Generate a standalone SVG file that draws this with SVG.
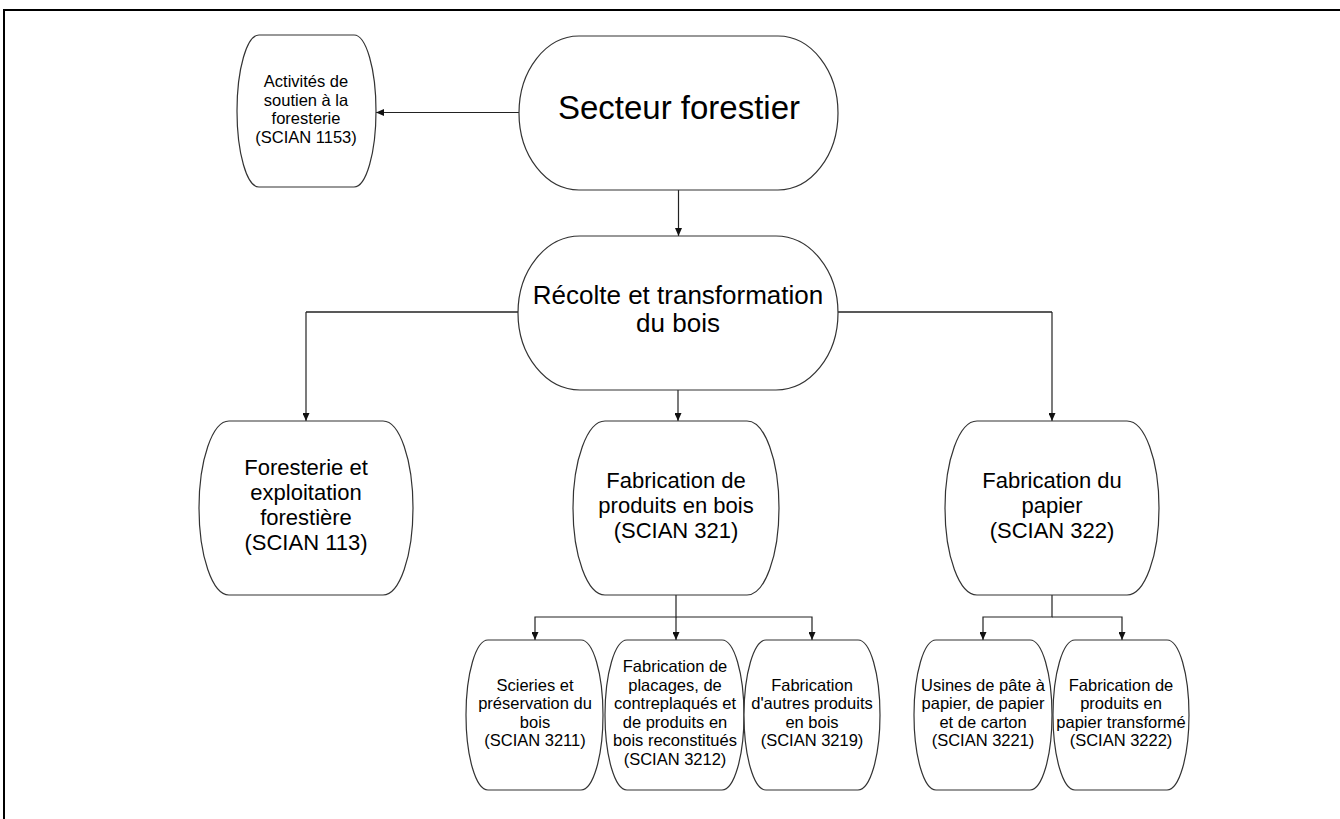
<svg xmlns="http://www.w3.org/2000/svg" width="1340" height="819" viewBox="0 0 1340 819">
<style>
.box{fill:#fff;stroke:#333;stroke-width:1.2}
.t{font-family:"Liberation Sans",Arial,sans-serif;fill:#000;text-anchor:middle}
.s{font-size:16.5px}
.m{font-size:22px}
.c{fill:none;stroke:#222;stroke-width:1.2}
.h{fill:none;stroke:#222;stroke-width:1.6}
</style>
<defs>
<marker id="ah" markerUnits="userSpaceOnUse" markerWidth="8" markerHeight="7" refX="8" refY="3.5" orient="auto">
<path d="M0,0 L8,3.5 L0,7 z" fill="#111"/>
</marker>
</defs>
<rect width="1340" height="819" fill="#fff"/>
<path d="M4,819 V10 H1340" fill="none" stroke="#000" stroke-width="2"/>

<g id="connectors">
<path class="c" d="M519,112.5 H376" marker-end="url(#ah)"/>
<path class="c" d="M678.5,190 V236" marker-end="url(#ah)"/>
<path class="h" d="M518,312 H306"/>
<path class="c" d="M306,312 V421" marker-end="url(#ah)"/>
<path class="h" d="M838,312 H1052"/>
<path class="c" d="M1052,312 V421" marker-end="url(#ah)"/>
<path class="c" d="M678,390 V421" marker-end="url(#ah)"/>
<path class="c" d="M676,595 V617 H535 V640" marker-end="url(#ah)"/>
<path class="c" d="M676,617 V640" marker-end="url(#ah)"/>
<path class="c" d="M676,617 H812 V640" marker-end="url(#ah)"/>
<path class="c" d="M1052,595 V617 H983 V640" marker-end="url(#ah)"/>
<path class="c" d="M1052,617 H1122 V640" marker-end="url(#ah)"/>
</g>

<g id="secteur">
<rect class="box" x="519" y="36" width="319" height="154" rx="60" ry="77"/>
<text class="t" x="679" y="119" font-size="33">Secteur forestier</text>
</g>

<g id="activites">
<rect class="box" x="237" y="35" width="139" height="152" rx="22" ry="76"/>
<text class="t s" x="306" y="87">Activités de</text>
<text class="t s" x="306" y="105.5">soutien à la</text>
<text class="t s" x="306" y="124">foresterie</text>
<text class="t s" x="306" y="142.5">(SCIAN 1153)</text>
</g>

<g id="recolte">
<rect class="box" x="518" y="236" width="320" height="154" rx="62" ry="77"/>
<text class="t" x="678" y="304" font-size="26">Récolte et transformation</text>
<text class="t" x="678" y="332" font-size="26">du bois</text>
</g>

<g id="foresterie">
<rect class="box" x="199" y="421" width="214" height="174" rx="30" ry="87"/>
<text class="t m" x="306" y="475">Foresterie et</text>
<text class="t m" x="306" y="500">exploitation</text>
<text class="t m" x="306" y="525">forestière</text>
<text class="t m" x="306" y="550">(SCIAN 113)</text>
</g>

<g id="bois">
<rect class="box" x="573" y="421" width="206" height="174" rx="32" ry="87"/>
<text class="t m" x="676" y="488">Fabrication de</text>
<text class="t m" x="676" y="513">produits en bois</text>
<text class="t m" x="676" y="538">(SCIAN 321)</text>
</g>

<g id="papier">
<rect class="box" x="945" y="421" width="214" height="174" rx="32" ry="87"/>
<text class="t m" x="1052" y="488">Fabrication du</text>
<text class="t m" x="1052" y="513">papier</text>
<text class="t m" x="1052" y="538">(SCIAN 322)</text>
</g>

<g id="n3211">
<rect class="box" x="466" y="640" width="137" height="150" rx="22" ry="75"/>
<text class="t s" x="535" y="690.5">Scieries et</text>
<text class="t s" x="535" y="709">préservation du</text>
<text class="t s" x="535" y="727.5">bois</text>
<text class="t s" x="535" y="746">(SCIAN 3211)</text>
</g>

<g id="n3212">
<rect class="box" x="605" y="640" width="139" height="150" rx="22" ry="75"/>
<text class="t s" x="675" y="672">Fabrication de</text>
<text class="t s" x="675" y="690.5">placages, de</text>
<text class="t s" x="675" y="709">contreplaqués et</text>
<text class="t s" x="675" y="727.5">de produits en</text>
<text class="t s" x="675" y="746">bois reconstitués</text>
<text class="t s" x="675" y="764.5">(SCIAN 3212)</text>
</g>

<g id="n3219">
<rect class="box" x="744" y="640" width="136" height="150" rx="22" ry="75"/>
<text class="t s" x="812" y="690.5">Fabrication</text>
<text class="t s" x="812" y="709">d'autres produits</text>
<text class="t s" x="812" y="727.5">en bois</text>
<text class="t s" x="812" y="746">(SCIAN 3219)</text>
</g>

<g id="n3221">
<rect class="box" x="914" y="640" width="138" height="150" rx="22" ry="75"/>
<text class="t s" x="983" y="690.5">Usines de pâte à</text>
<text class="t s" x="983" y="709">papier, de papier</text>
<text class="t s" x="983" y="727.5">et de carton</text>
<text class="t s" x="983" y="746">(SCIAN 3221)</text>
</g>

<g id="n3222">
<rect class="box" x="1053" y="640" width="136" height="150" rx="22" ry="75"/>
<text class="t s" x="1121" y="690.5">Fabrication de</text>
<text class="t s" x="1121" y="709">produits en</text>
<text class="t s" x="1121" y="727.5">papier transformé</text>
<text class="t s" x="1121" y="746">(SCIAN 3222)</text>
</g>
</svg>
